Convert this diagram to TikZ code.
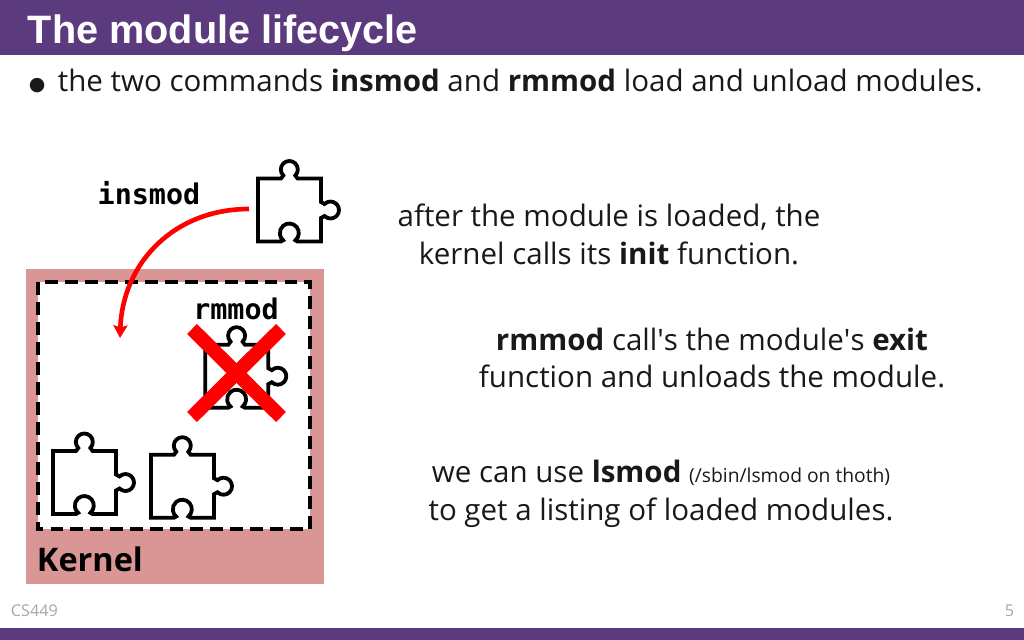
\documentclass[tikz,border=0pt]{standalone}
\usepackage{fontspec}
\usetikzlibrary{arrows.meta}
\setmainfont{Open Sans}
\setmonofont{DejaVu Sans Mono}
\newfontfamily\titlefont{Liberation Sans}
\newfontfamily\symfont{DejaVu Sans}
\definecolor{barpurple}{HTML}{5B3A7E}
\definecolor{kernelred}{HTML}{D99694}
\tikzset{
  bar/.style={fill=barpurple,draw=none},
  body/.style={align=center,font=\fontsize{21}{27}\selectfont,text=black!90},
  cmd/.style={font=\fontsize{20.2}{24}\ttfamily\bfseries\selectfont},
  foot/.style={font=\fontsize{11.5}{14}\selectfont,text=black!35},
  cross/.style={red,line width=10pt},
  pics/puzzle/.style={code={
    \draw[y=0.25mm,line width=2.7pt,miter limit=2] (0,0) -- (23,0)
      -- (25.3,3) arc (225:-45:2.125mm) -- (39.6,0) -- (63,0) -- (63,-23.5)
      -- (66.5,-25.5) arc (135:-135:2.125mm) -- (63,-39.5) -- (63,-63) -- (39.5,-63)
      -- (37.4,-61.8) arc (-50:230:2.375mm) -- (23,-63) -- (0,-63) -- cycle;
  }}
}
\begin{document}
\begin{tikzpicture}[x=0.25mm,y=-0.25mm]
    \useasboundingbox (0,0) rectangle (1024,640);
    \fill[bar] (0,0) rectangle (1024,55);
    \fill[bar] (0,628) rectangle (1024,640);
    \node[anchor=west,text=white,font=\fontsize{28.2}{30}\titlefont\bfseries\selectfont] (title) at (23,33) {The module lifecycle};
    \node[anchor=west,body] (bullet) at (24,81) {\raisebox{1.2pt}{\symfont\fontsize{13.5}{27}\selectfont ●}\hspace{0.42em}the two commands \textbf{insmod} and \textbf{rmmod} load and unload modules.};

    \fill[kernelred] (26,269) rectangle (324,584);
    \draw[fill=white,line width=2.6pt,dash pattern=on 9.2pt off 5pt] (38,282) rectangle (310,529);
    \node[anchor=west,font=\fontsize{23.1}{28}\bfseries\selectfont] (kernel) at (32,559) {Kernel};

    \pic at (258,178.5) {puzzle};
    \pic at (205.3,344.7) {puzzle};
    \pic at (53,451) {puzzle};
    \pic at (151,454.7) {puzzle};

    \node[cmd] (insmod) at (149,193) {insmod};
    \node[cmd] (rmmod) at (236,309) {rmmod};

    \coordinate (loadstart) at (249,209);
    \coordinate (loadend) at (120,338);
    \draw[red,line width=3.3pt,-{Stealth[length=9pt,width=10pt,inset=1.5pt]}] (loadstart) to[out=180,in=88,looseness=1.05] (loadend);

    \coordinate (crossa) at (192,329);
    \coordinate (crossb) at (281,417);
    \coordinate (crossc) at (281,329);
    \coordinate (crossd) at (192,417);
    \draw[cross] (crossa) -- (crossb);
    \draw[cross] (crossc) -- (crossd);

    \node[body] (initnote) at (609,234) {after the module is loaded, the\\kernel calls its \textbf{init} function.};
    \node[body] (exitnote) at (712,358) {\textbf{rmmod} call\textquotesingle s the module\textquotesingle s \textbf{exit}\\function and unloads the module.};
    \node[body] (lsmodnote) at (661,494) {we can use \textbf{lsmod} {\fontsize{13.7}{27}\selectfont (/sbin/lsmod on thoth)}\\to get a listing of loaded modules.};

    \node[foot,anchor=west] (course) at (6,611) {CS449};
    \node[foot,anchor=east] (page) at (1019,611) {5};
\end{tikzpicture}
\end{document}
